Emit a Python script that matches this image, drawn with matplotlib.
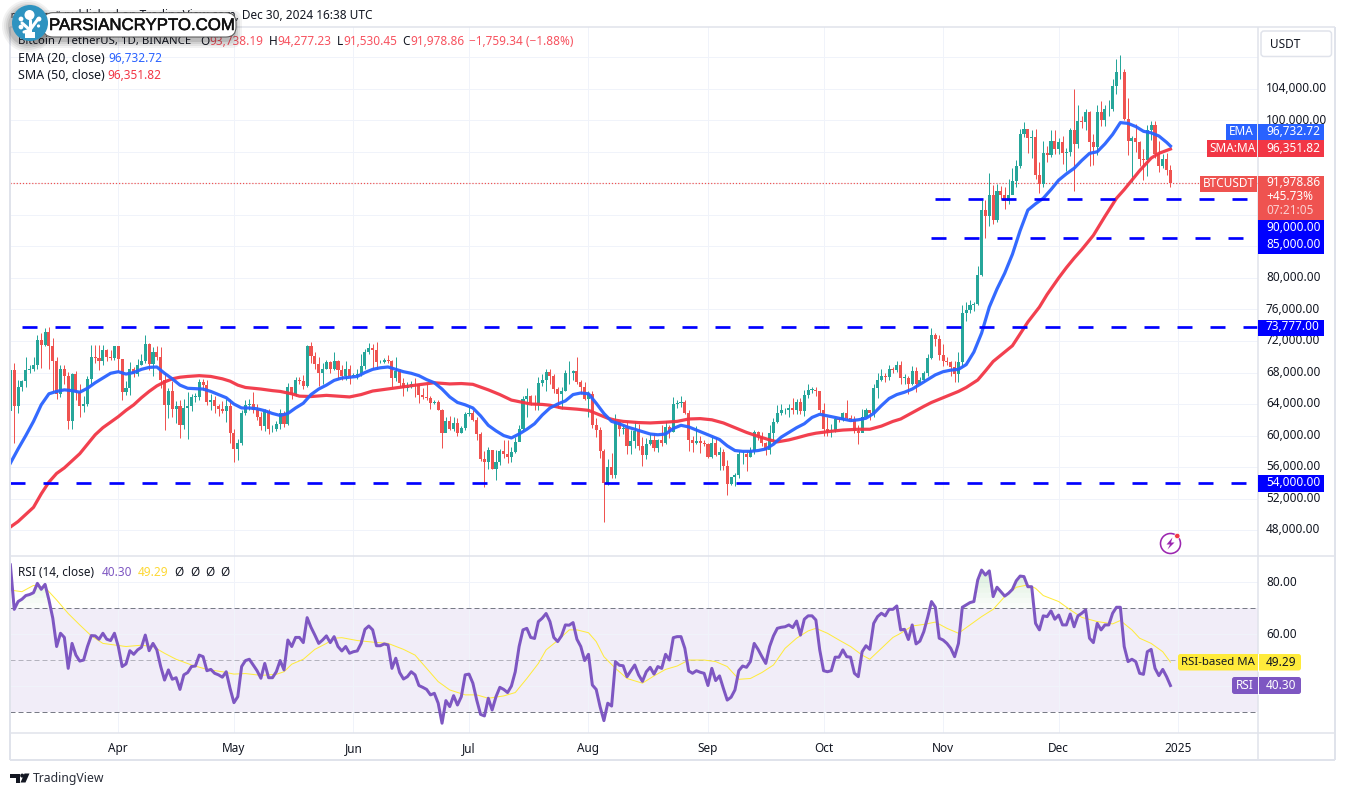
import numpy as np
import matplotlib
matplotlib.use("Agg")
import matplotlib.pyplot as plt
from matplotlib.patches import Circle, FancyBboxPatch, Polygon, Rectangle
from matplotlib.transforms import ScaledTranslation
import matplotlib.patheffects as pe

plt.rcParams['font.family'] = ['Noto Sans', 'DejaVu Sans']
plt.rcParams['lines.scale_dashes'] = False

W, H = 1345, 796

# days are counted from 2024-04-01, one candle per day from 2024-03-04 to 2024-12-30 (thousands of USDT)
first_day = -28
closes = [
    68.3, 63.8, 66.1, 66.9, 68.3, 68.5, 69.0, 72.1, 71.5, 73.1, 71.4, 69.5, 65.3, 68.4, 67.6, 61.9, 67.8, 65.5, 63.8, 64.0, 67.2, 70.0, 69.9, 69.5, 70.8, 70.0, 69.9, 71.3,
    69.7, 65.5, 66.0, 68.5, 67.8, 69.0, 69.4, 71.6, 69.1, 70.6, 70.0, 67.1, 63.9, 65.7, 63.4, 63.8, 61.3, 63.5, 63.8, 64.9, 64.9, 66.8, 66.4, 64.3, 64.5, 63.8, 63.4, 63.1, 63.8, 60.3,
    58.3, 59.1, 62.9, 63.9, 64.0, 63.2, 62.3, 61.2, 63.1, 60.8, 60.8, 61.5, 62.9, 61.5, 66.2, 65.2, 67.0, 66.9, 66.3, 71.4, 70.1, 69.1, 67.9, 68.5, 69.3, 68.5, 69.4, 68.3, 67.6, 68.4, 67.5,
    67.7, 67.8, 68.8, 70.6, 71.1, 70.8, 69.3, 69.3, 69.6, 69.5, 67.3, 68.2, 66.7, 66.0, 66.2, 66.6, 66.5, 65.1, 64.9, 64.8, 64.1, 64.2, 63.2, 60.3, 61.8, 60.8, 61.6, 60.3, 60.9, 62.7,
    62.8, 62.0, 60.2, 57.0, 56.6, 58.2, 55.8, 56.7, 58.0, 57.7, 57.3, 57.9, 59.2, 60.8, 64.7, 65.0, 64.1, 63.9, 66.7, 67.1, 68.1, 67.5, 65.9, 65.3, 65.7, 67.9, 68.0, 68.2, 66.8, 66.2, 64.6,
    65.3, 61.4, 60.7, 58.1, 54.0, 56.0, 55.0, 61.7, 60.8, 60.9, 58.7, 59.3, 60.6, 58.7, 57.5, 58.9, 59.4, 58.4, 59.4, 59.0, 61.1, 60.4, 64.0, 64.1, 64.2, 62.8, 59.4, 59.0, 59.3, 59.1, 58.9,
    57.3, 59.1, 57.5, 57.9, 56.1, 53.9, 54.8, 55.0, 57.6, 57.6, 57.3, 58.1, 60.5, 60.0, 59.1, 58.2, 60.3, 61.7, 62.9, 63.2, 63.3, 63.5, 63.3, 64.2, 63.1, 65.1, 65.8, 65.8, 65.6, 63.3,
    60.8, 60.6, 60.7, 62.1, 62.0, 62.8, 62.2, 62.1, 60.6, 60.3, 62.4, 63.2, 62.8, 66.0, 67.0, 67.6, 67.4, 68.4, 68.3, 69.0, 67.3, 67.3, 66.6, 68.2, 66.6, 67.0, 67.9, 69.9, 72.7, 72.3, 70.2,
    69.4, 69.3, 68.7, 67.8, 69.3, 75.6, 75.9, 76.5, 76.7, 80.4, 88.6, 87.9, 90.5, 87.3, 91.0, 90.5, 89.8, 90.5, 92.3, 94.2, 98.3, 98.9, 97.7, 97.9, 93.0, 91.9, 95.9, 95.6, 97.4, 96.4,
    97.2, 95.8, 96.0, 98.7, 97.0, 99.9, 99.8, 101.1, 97.3, 96.6, 101.1, 100.0, 101.4, 101.4, 104.4, 106.1, 106.1, 100.2, 97.4, 97.7, 97.2, 95.1, 94.9, 98.7, 99.4, 95.7, 94.2, 95.1, 93.74, 91.98,
]
highs = [
    68.5, 69.2, 67.0, 67.0, 70.0, 69.0, 70.0, 72.8, 73.0, 73.6, 73.8, 72.4, 70.0, 68.9, 68.9, 68.1, 68.0, 68.2, 66.6, 65.0, 67.6, 71.5, 71.5, 71.5, 71.5, 71.0, 70.9, 71.4,
    71.4, 69.7, 66.9, 69.3, 68.7, 69.7, 70.3, 72.8, 71.8, 71.2, 71.3, 71.2, 68.0, 66.0, 66.9, 64.4, 64.5, 64.6, 65.5, 65.3, 65.4, 67.2, 67.2, 67.0, 65.3, 65.0, 64.0, 64.4, 64.7, 64.7,
    60.8, 59.6, 63.3, 64.5, 64.6, 65.5, 64.0, 63.0, 63.4, 63.4, 61.4, 61.8, 63.4, 63.1, 66.7, 66.0, 67.4, 67.4, 67.7, 71.5, 71.9, 70.6, 70.0, 69.2, 69.6, 69.5, 70.6, 69.6, 68.9, 69.5, 69.0,
    67.9, 68.4, 70.3, 71.0, 71.7, 71.6, 71.9, 69.6, 69.9, 70.2, 69.6, 70.0, 68.4, 67.3, 66.8, 66.9, 67.3, 66.5, 66.0, 66.5, 65.0, 64.5, 64.5, 63.4, 62.4, 62.5, 62.3, 62.2, 61.2, 63.0,
    63.8, 63.3, 62.3, 60.5, 58.0, 58.5, 58.2, 58.2, 58.3, 59.4, 59.5, 58.6, 59.8, 61.4, 65.0, 66.0, 65.1, 65.2, 67.4, 67.8, 68.4, 68.5, 67.8, 66.1, 66.1, 68.3, 69.4, 68.3, 70.0, 67.0, 66.8,
    65.6, 65.6, 62.2, 61.1, 58.3, 57.0, 57.8, 62.7, 61.8, 61.4, 61.8, 60.7, 61.8, 61.5, 59.8, 59.7, 60.2, 60.3, 59.6, 61.4, 61.8, 61.4, 64.9, 64.5, 65.0, 64.5, 63.2, 59.9, 61.2, 60.0, 59.5,
    59.0, 59.8, 59.8, 58.5, 58.3, 56.9, 54.8, 55.3, 58.1, 58.0, 58.0, 58.6, 60.7, 60.6, 60.4, 59.2, 61.3, 62.2, 63.9, 64.0, 63.5, 64.0, 64.8, 64.7, 64.8, 65.8, 66.5, 66.2, 66.1, 65.7,
    64.1, 62.4, 61.5, 62.4, 62.4, 63.0, 64.5, 62.6, 62.5, 61.3, 63.4, 63.5, 63.1, 66.5, 67.9, 68.4, 67.9, 68.9, 68.7, 69.4, 69.5, 67.8, 67.5, 68.8, 68.7, 67.4, 68.2, 70.3, 73.6, 73.0, 72.7,
    71.6, 70.0, 69.5, 69.5, 70.6, 76.5, 76.9, 77.2, 77.0, 81.5, 89.9, 89.9, 93.3, 91.8, 91.9, 91.7, 91.5, 92.6, 94.0, 94.9, 98.9, 99.8, 98.8, 98.7, 98.9, 94.7, 97.4, 96.7, 98.8, 98.7,
    97.8, 98.0, 96.5, 99.0, 104.0, 101.9, 100.5, 101.4, 101.2, 98.3, 101.9, 102.5, 101.9, 102.6, 105.2, 107.8, 108.3, 106.5, 102.8, 98.0, 99.5, 97.4, 96.4, 99.4, 99.9, 99.9, 97.4, 95.7, 95.8, 94.28,
]
lows = [
    62.8, 59.1, 62.8, 65.6, 66.2, 68.0, 68.2, 68.5, 68.6, 71.3, 68.5, 65.6, 64.7, 64.9, 66.5, 60.8, 60.8, 64.5, 62.3, 63.0, 63.8, 66.6, 69.2, 68.3, 68.9, 69.5, 69.6, 69.6,
    68.2, 64.5, 65.1, 65.1, 67.4, 67.5, 69.0, 69.2, 68.3, 67.5, 69.6, 66.0, 60.7, 62.2, 62.3, 61.6, 59.7, 60.8, 59.6, 63.1, 64.2, 64.5, 65.8, 63.9, 63.3, 62.8, 62.5, 62.8, 61.7, 59.1,
    56.6, 56.9, 58.8, 62.6, 63.3, 62.8, 62.0, 60.7, 60.6, 60.2, 60.5, 60.6, 60.8, 61.1, 61.3, 64.6, 65.0, 66.6, 65.9, 66.1, 69.2, 68.4, 66.3, 66.6, 68.4, 68.0, 68.3, 67.2, 67.1, 67.1, 66.6,
    67.4, 67.2, 67.6, 68.5, 70.4, 68.5, 68.5, 69.2, 69.2, 69.2, 66.1, 66.9, 66.3, 65.0, 65.7, 66.0, 64.9, 64.1, 64.7, 64.5, 63.4, 64.0, 63.2, 58.4, 60.6, 60.7, 60.6, 59.9, 60.3, 60.7,
    62.5, 61.8, 59.4, 56.8, 53.5, 55.8, 55.7, 54.3, 56.3, 57.2, 56.5, 56.6, 57.8, 59.7, 60.6, 62.4, 63.9, 63.2, 63.3, 66.3, 65.7, 66.6, 65.4, 63.5, 63.4, 65.7, 66.5, 67.0, 66.6, 65.3, 64.5,
    62.3, 61.0, 59.8, 57.1, 49.0, 53.7, 54.6, 54.6, 60.0, 60.2, 57.6, 57.7, 58.4, 58.2, 56.1, 57.0, 58.8, 58.1, 57.9, 58.7, 58.9, 59.7, 60.4, 63.5, 63.6, 62.7, 58.1, 57.9, 58.9, 57.8, 58.7,
    57.1, 57.1, 57.4, 55.6, 55.6, 52.5, 53.7, 53.6, 54.6, 56.4, 55.5, 57.3, 57.6, 59.4, 58.7, 57.5, 57.6, 59.2, 61.6, 62.6, 62.7, 62.4, 62.7, 62.7, 62.7, 62.5, 64.8, 65.4, 65.0, 62.8,
    60.0, 60.0, 59.8, 60.5, 61.7, 61.8, 62.1, 61.9, 60.3, 58.9, 60.4, 62.4, 62.0, 62.4, 64.8, 66.9, 66.8, 67.1, 67.9, 68.1, 66.6, 66.6, 65.3, 66.4, 65.5, 66.5, 66.8, 67.6, 69.7, 71.4, 69.6,
    68.8, 69.0, 67.5, 66.8, 66.8, 68.8, 74.5, 75.5, 75.8, 76.5, 80.2, 85.0, 86.6, 86.8, 87.1, 90.0, 88.7, 89.4, 90.9, 91.5, 94.0, 97.9, 95.8, 95.2, 92.6, 90.8, 91.5, 94.7, 95.3, 95.7,
    95.7, 94.4, 93.6, 95.5, 91.0, 96.5, 99.0, 98.8, 94.2, 94.3, 95.6, 99.3, 99.3, 100.6, 101.2, 103.3, 105.2, 100.0, 95.6, 92.2, 96.0, 94.2, 92.4, 92.9, 97.5, 95.2, 93.4, 94.0, 93.0, 91.53,
]
first_open = 63.1

ema_days = [-28, -26, -24, -22, -20, -18, -16, -14, -12, -10, -8, -6, -4, -2, 0, 2, 4, 6, 8, 10, 12, 14, 16, 18, 20, 22, 24, 26, 28, 30, 32, 34, 36, 38, 40, 42, 44, 46, 48, 50, 52, 54, 56, 58, 60, 62, 64, 66, 68, 70, 72, 74, 76, 78, 80, 82, 84, 86, 88, 90, 92, 94, 96, 98, 100, 102, 104, 106, 108, 110, 112, 114, 116, 118, 120, 122, 124, 126, 128, 130, 132, 134, 136, 138, 140, 142, 144, 146, 148, 150, 152, 154, 156, 158, 160, 162, 164, 166, 168, 170, 172, 174, 176, 178, 180, 182, 184, 186, 188, 190, 192, 194, 196, 198, 200, 202, 204, 206, 208, 210, 212, 214, 216, 218, 220, 222, 224, 226, 228, 230, 232, 234, 236, 238, 240, 242, 244, 246, 248, 250, 252, 254, 256, 258, 260, 262, 264, 266, 268, 270, 272, 273]
ema_vals = [56.5, 58.3, 60.0, 61.8, 63.9, 65.3, 65.6, 65.8, 65.7, 65.5, 66.0, 66.7, 67.3, 67.9, 68.1, 67.8, 68.0, 68.4, 68.65, 68.7, 67.9, 67.2, 66.4, 66.0, 65.95, 65.9, 65.6, 65.2, 64.8, 64.0, 63.5, 63.5, 63.4, 63.15, 62.8, 62.55, 62.8, 63.5, 64.1, 65.2, 65.9, 66.4, 67.0, 67.3, 67.4, 67.5, 68.0, 68.4, 68.6, 68.7, 68.4, 68.1, 67.9, 67.6, 67.1, 66.7, 65.9, 64.9, 64.2, 63.9, 63.5, 62.5, 61.3, 60.6, 60.0, 59.7, 60.2, 60.8, 61.5, 62.6, 63.5, 64.0, 64.4, 65.2, 65.4, 65.3, 64.1, 62.8, 61.8, 61.5, 61.1, 60.8, 60.5, 60.2, 60.1, 60.2, 60.9, 61.3, 61.1, 60.7, 60.3, 59.9, 59.5, 58.7, 58.1, 58.0, 58.0, 58.1, 58.3, 58.9, 59.8, 60.4, 61.0, 61.5, 62.3, 62.7, 62.5, 62.3, 62.1, 61.9, 62.0, 62.2, 62.8, 63.8, 64.7, 65.2, 65.5, 65.9, 66.5, 67.1, 67.7, 68.1, 68.3, 68.4, 69.0, 70.6, 73.0, 76.3, 78.6, 80.6, 83.0, 86.0, 88.6, 89.4, 90.1, 91.2, 92.4, 93.2, 93.9, 94.9, 95.8, 96.0, 97.0, 98.2, 99.7, 99.6, 99.2, 98.6, 98.4, 98.0, 97.2, 96.73]

sma_days = [-28, -26, -24, -22, -20, -18, -16, -14, -12, -10, -8, -6, -4, -2, 0, 2, 4, 6, 8, 10, 12, 14, 16, 18, 21, 24, 27, 29, 31, 33, 35, 37, 40, 42, 45, 47, 50, 54, 57, 60, 63, 66, 69, 72, 75, 78, 82, 86, 89, 92, 94, 96, 99, 102, 105, 107, 110, 112, 115, 119, 122, 124, 127, 129, 131, 135, 138, 142, 145, 148, 151, 154, 157, 160, 163, 166, 169, 171, 174, 176, 179, 181, 185, 188, 192, 195, 198, 201, 203, 206, 209, 211, 213, 216, 218, 220, 223, 225, 227, 230, 232, 234, 236, 239, 241, 244, 246, 248, 250, 253, 256, 259, 261, 263, 265, 268, 270, 273]
sma_vals = [48.4, 49.1, 50.0, 50.9, 52.6, 54.1, 55.2, 55.9, 56.8, 57.7, 58.9, 60.1, 61.0, 61.7, 62.4, 63.2, 63.9, 64.8, 65.6, 66.3, 66.8, 67.2, 67.4, 67.5, 67.6, 67.5, 67.2, 66.9, 66.4, 66.1, 66.0, 65.9, 65.7, 65.6, 65.3, 65.0, 64.95, 65.1, 65.0, 64.9, 65.2, 65.65, 65.85, 66.05, 66.25, 66.45, 66.7, 66.55, 66.6, 66.5, 66.15, 65.8, 65.2, 64.5, 64.2, 64.0, 63.95, 63.85, 63.5, 63.35, 63.2, 62.8, 62.2, 61.95, 61.8, 61.65, 61.6, 61.7, 61.8, 62.1, 62.15, 62.0, 61.6, 61.0, 60.4, 59.9, 59.45, 59.2, 59.45, 59.7, 60.1, 60.3, 60.55, 60.7, 60.8, 60.8, 61.2, 61.8, 62.1, 62.9, 63.7, 64.2, 64.6, 65.2, 65.6, 66.1, 67.05, 68.2, 69.4, 70.6, 71.4, 72.9, 74.4, 76.3, 77.9, 80.0, 81.3, 82.5, 83.6, 85.4, 87.8, 90.1, 91.2, 92.4, 93.6, 95.2, 95.8, 96.35]

rsi_vals = [
    86.7, 69.6, 72.6, 73.5, 74.9, 75.3, 76, 79.6, 77.3, 79.2, 73.2, 66.2, 55.3, 60.4, 58.8, 46.9, 56.5, 52, 49.7, 50.1, 55.3, 59.5, 59.4, 58.1, 60.4, 58.1, 57.6, 60.4,
    55.3, 47.6, 48.6, 53.7, 52.3, 54, 55, 59.7, 53.7, 56.5, 54, 47.6, 42.4, 46.3, 42.7, 43.3, 38.8, 44.4, 45.3, 47.6, 47.8, 52, 51.4, 46, 46.5, 45, 44.4, 43.5, 45.6, 39.2,
    33.7, 36, 47.6, 49.9, 50.4, 48.2, 46, 43.1, 48.8, 43.3, 43.3, 45.6, 49.9, 46.3, 57.8, 55.3, 58.8, 58.8, 56.8, 66.4, 62.7, 59.7, 56.5, 57.8, 59.4, 56.8, 59.1, 55.3, 53.6, 55.3, 52.7,
    53.3, 53.6, 56.5, 61.9, 63.2, 61.7, 55.6, 55.6, 56.3, 55.9, 46.9, 50.8, 45.3, 42.8, 43.7, 45.6, 44.4, 40.3, 39.6, 38.8, 36.7, 37.3, 33.5, 25.8, 34.5, 32.2, 36.4, 32.8, 36, 44.4,
    44.7, 41.2, 34.7, 29.2, 28.6, 35.4, 30.9, 36, 39.6, 38.8, 37.6, 40.1, 45.6, 55.3, 61.7, 62.3, 58.8, 58.4, 64.9, 66.2, 68, 64.9, 58.8, 57.2, 59.4, 63.6, 63.5, 64.5, 58.1, 55.3, 49.9,
    52.3, 40.5, 38.8, 32.2, 26.8, 33.5, 32.4, 49.5, 48.1, 47.9, 43.7, 46, 48.2, 44.4, 41.9, 45.6, 47.3, 44.7, 47.6, 46.9, 52.3, 50.1, 58.7, 59.1, 59.1, 54.6, 45.9, 45, 46, 45.4, 45,
    40.3, 46.9, 42.2, 44, 39.2, 34.7, 35.8, 38.6, 46, 47.8, 47.3, 49.5, 56.5, 54.2, 51.4, 48.8, 55.3, 59.4, 62.3, 62.7, 62.9, 63.6, 62.6, 65.1, 59.7, 65.8, 67.1, 67.1, 65.5, 54,
    46, 45.6, 46, 51.2, 51.2, 54, 51.4, 51.2, 45, 43.7, 53.3, 55.6, 54.2, 64.2, 66.8, 68.1, 67.1, 69.6, 69.6, 70.9, 61.7, 61.9, 58, 63.6, 56.3, 57.4, 61, 66.5, 72.6, 70.4, 58.5,
    57.8, 56.5, 54.6, 51.4, 56.5, 70.4, 71.3, 72.2, 72.6, 80.9, 84.7, 82.8, 84.4, 74.5, 78.1, 76.4, 74.7, 75.8, 77.3, 80.6, 82.4, 82.2, 78.3, 78.3, 64.2, 61.7, 67.1, 66.8, 69, 65.8,
    67.4, 63.6, 63.6, 67.8, 62.9, 67.1, 68.1, 69.4, 58.5, 56.8, 64.2, 61.7, 63.6, 63.6, 68.1, 70.4, 70.4, 55.3, 49.5, 50.4, 49.5, 45, 44.6, 53.3, 54.2, 46.9, 44.1, 46.5, 43.7, 40.3,
]

rsi_ma_days = [-28, -25, -22, -19, -16, -13, -10, -7, -4, -1, 2, 6, 9, 12, 15, 19, 23, 27, 30, 33, 37, 41, 43, 45, 48, 51, 54, 56, 58, 62, 66, 70, 74, 77, 80, 83, 86, 90, 93, 96, 100, 103, 106, 109, 111, 114, 117, 119, 122, 124, 126, 129, 132, 136, 139, 142, 145, 148, 152, 155, 158, 161, 164, 167, 170, 173, 176, 179, 181, 184, 187, 190, 193, 195, 198, 201, 203, 206, 209, 212, 215, 218, 221, 224, 227, 230, 233, 236, 238, 240, 244, 247, 250, 254, 258, 260, 263, 265, 268, 271, 273]
rsi_ma_vals = [77, 76.4, 78.8, 78, 73.2, 68, 63.6, 59.4, 56.5, 55.9, 55.3, 55.8, 55.3, 52.7, 50.4, 48.2, 46.5, 45.6, 44.7, 44.9, 44.2, 44.6, 45.6, 48.5, 50.4, 54.2, 56.5, 58.5, 58.7, 57.6, 57, 56.5, 54.2, 52, 46.9, 41.8, 38.6, 36.7, 36.7, 35.4, 36.3, 37.6, 43, 48.8, 54, 57.6, 61.7, 61.7, 60.6, 57.2, 51.4, 46.9, 43, 41.2, 44, 46.5, 47.8, 50.1, 50.1, 49.5, 47.6, 42.7, 43, 45.3, 48.2, 54.6, 58.5, 61.3, 62.3, 60.4, 57.8, 55.3, 52, 50.4, 54.6, 58.8, 60.4, 63.2, 63.8, 64.7, 62.3, 60.4, 63.6, 66.8, 69.6, 74.5, 78.1, 79, 77.7, 74.9, 72.6, 69.4, 66.5, 64.9, 64, 65.3, 61.7, 58.5, 56.5, 53.3, 49.29]

month_days = [0, 30, 61, 91, 122, 153, 183, 214, 244, 275]
month_labels = ['Apr', 'May', 'Jun', 'Jul', 'Aug', 'Sep', 'Oct', 'Nov', 'Dec', '2025']

# the 84-96k and 108k labels are hidden by the price boxes in the reference
price_ticks = [48, 52, 56, 60, 64, 68, 72, 76, 80, 84, 88, 92, 96, 100, 104, 108]
price_labels = ['48,000.00', '52,000.00', '56,000.00', '60,000.00', '64,000.00', '68,000.00', '72,000.00', '76,000.00',
                '80,000.00', '', '', '', '', '100,000.00', '104,000.00', '']
rsi_ticks = [40, 60, 80]
rsi_tick_labels = ['', '60.00', '80.00']

# horizontal levels drawn on the chart: price, first day, last day
level_prices = [90.0, 85.0, 73.777, 54.0]
level_starts = [211.9, 210.9, -25.0, -28.1]
level_ends = [293.0, 292.0, 295.7, 295.7]

# scales taken from the gridlines of the picture
px_per_day = 3.854
x_apr = 118.3
px_per_k = 7.883
y_68k = 372.5
px_per_rsi = 2.6
y_rsi70 = 608.3

left, right = 10, 1258
main_top, main_bottom = 27, 556
rsi_bottom = 733

GRID = '#f0f3fa'
FRAME = '#e0e3eb'
TEXT = '#131722'
UP = '#26a69a'
DOWN = '#ef5350'
BLUE = '#2962ff'
RED = '#f23645'
PURPLE = '#7e57c2'
YELLOW = '#ffeb3b'
LINEBLUE = '#0000ff'
px = 72 / 100


def axes_px(x0, y0, x1, y1):
    return fig.add_axes([x0 / W, 1 - y1 / H, (x1 - x0) / W, (y1 - y0) / H])


fig = plt.figure(figsize=(W / 100, H / 100), dpi=100, facecolor='white')
ax = axes_px(left, main_top, right, main_bottom)
ax_rsi = axes_px(left, main_bottom, right, rsi_bottom)

xlim = ((left - x_apr) / px_per_day, (right - x_apr) / px_per_day)
for a in (ax, ax_rsi):
    a.set_xlim(xlim)
    a.set_xticks(month_days)
    a.grid(True, color=GRID, lw=1 * px)
    a.set_axisbelow(True)
    for s in a.spines.values():
        s.set_visible(False)
    a.yaxis.tick_right()
    a.tick_params(length=0, pad=8 * px, labelsize=8.5, labelcolor=TEXT)

ax.set_ylim(68 - (main_bottom - y_68k) / px_per_k, 68 + (y_68k - main_top) / px_per_k)
ax.set_yticks(price_ticks)
ax.set_yticklabels(price_labels)
ax.tick_params(axis='x', labelbottom=False)

ax_rsi.set_ylim(70 - (rsi_bottom - y_rsi70) / px_per_rsi, 70 + (y_rsi70 - main_bottom) / px_per_rsi)
ax_rsi.set_yticks(rsi_ticks)
ax_rsi.set_yticklabels(rsi_tick_labels)
ax_rsi.set_xticklabels(month_labels)
ax_rsi.tick_params(axis='x', pad=9 * px)
ax_rsi.get_xticklabels()[-1].set_fontweight('bold')

# labels sit a little above their gridlines in the reference
for lab in ax.get_yticklabels():
    lab.set_transform(lab.get_transform() + ScaledTranslation(0, 1.7 / 100, fig.dpi_scale_trans))
for lab in ax_rsi.get_yticklabels():
    lab.set_transform(lab.get_transform() + ScaledTranslation(0, 1.0 / 100, fig.dpi_scale_trans))

# candles
days = np.arange(first_day, first_day + len(closes))
c = np.array(closes)
o = np.r_[first_open, c[:-1]]
colors = np.where(c >= o, UP, DOWN)
ax.vlines(days, lows, highs, colors=colors, lw=1 * px, zorder=3)
ax.bar(days, np.maximum(np.abs(c - o), 0.08), bottom=np.minimum(o, c), width=0.8, color=colors, lw=0, zorder=3)

ax.axhline(c[-1], color=DOWN, lw=1.2 * px, ls=(0, (1.2 * px, 1.9 * px)), zorder=2)
ax.plot(sma_days, sma_vals, color=RED, lw=3.2 * px, alpha=0.95, zorder=4, solid_joinstyle='round')
ax.plot(ema_days, ema_vals, color=BLUE, lw=3.2 * px, alpha=0.95, zorder=5, solid_joinstyle='round')
for lv, d0, d1 in zip(level_prices, level_starts, level_ends):
    ax.plot([d0, d1], [lv, lv], color=LINEBLUE, lw=2.7 * px, ls=(0, (15 * px, 18 * px)),
            dash_capstyle='butt', zorder=6)

# rsi pane
rsi = np.array(rsi_vals)
ax_rsi.axhspan(30, 70, color=PURPLE, alpha=0.1, lw=0, zorder=0)
for lv, col, al in [(70, '#787b86', 1), (50, '#787b86', 0.5), (30, '#787b86', 1)]:
    ax_rsi.axhline(lv, color=col, alpha=al, lw=1 * px, ls=(0, (5 * px, 3 * px)), zorder=2)
for i, lv in enumerate(np.arange(70, 88, 2)):
    ax_rsi.fill_between(days, lv, np.minimum(rsi, lv + 2), where=rsi > lv, interpolate=True,
                        color='#4caf50', alpha=0.03 + 0.025 * i, lw=0, zorder=2)
ax_rsi.plot(rsi_ma_days, rsi_ma_vals, color=YELLOW, lw=1 * px, zorder=3)
ax_rsi.plot(days, rsi, color=PURPLE, lw=3 * px, zorder=4, solid_joinstyle='round')

# overlay in pixel coordinates for frame, labels and watermark
ov = fig.add_axes([0, 0, 1, 1], facecolor='none')
ov.set_xlim(0, W)
ov.set_ylim(H, 0)
ov.axis('off')


def hline(y, x0=left, x1=1335, lw=1.5):
    ov.plot([x0, x1], [y, y], color=FRAME, lw=lw * px, solid_capstyle='butt', zorder=1)


def vline(x, y0=main_top, y1=760, lw=1.5):
    ov.plot([x, x], [y0, y1], color=FRAME, lw=lw * px, solid_capstyle='butt', zorder=1)


hline(main_top)
hline(main_bottom)
hline(rsi_bottom, x1=1335)
hline(760, lw=2)
vline(left, lw=2)
vline(1257.5)
vline(1335, lw=2)


def txt(x, y, s, color=TEXT, size=8.5, ha='left', **kw):
    return ov.text(x, y, s, color=color, fontsize=size, ha=ha, va='center', zorder=12, **kw)


def box(x0, y0, x1, y1, color):
    ov.add_patch(Rectangle((x0, y0), x1 - x0, y1 - y0, fc=color, ec='none', zorder=10))


def rbox(x0, y0, x1, y1, color, ec='none', r=2.5, z=10, **kw):
    ov.add_patch(FancyBboxPatch((x0 + r, y0 + r), x1 - x0 - 2 * r, y1 - y0 - 2 * r,
                                boxstyle=f'round,pad={r},rounding_size={r}', fc=color, ec=ec,
                                mutation_aspect=1, zorder=z, **kw))


WHITE = 'white'
# USDT selector
rbox(1261, 31, 1331.5, 56.5, 'white', ec=FRAME, r=3, lw=1.5 * px)
txt(1270, 44, 'USDT')

# price labels
box(1226, 123.5, 1257, 139.5, BLUE)
box(1258, 123.5, 1324, 139.5, BLUE)
txt(1241.5, 131.5, 'EMA', WHITE, ha='center')
txt(1266, 131.5, '96,732.72', WHITE)
box(1207, 140, 1257, 156.5, RED)
box(1258, 140, 1324, 156.5, RED)
txt(1232, 148, 'SMA:MA', WHITE, ha='center')
txt(1266, 148, '96,351.82', WHITE)
box(1200, 175.5, 1257, 191.5, DOWN)
box(1258, 175.5, 1324, 220, DOWN)
txt(1228.5, 183.5, 'BTCUSDT', WHITE, ha='center')
txt(1266, 183, '91,978.86', WHITE)
txt(1266, 197, '+45.73%', WHITE)
txt(1266, 211, '07:21:05', '#fbd0d0')
box(1258, 220, 1324, 254, LINEBLUE)
txt(1266, 227.5, '90,000.00', WHITE)
txt(1266, 244.5, '85,000.00', WHITE)
box(1258, 319.5, 1324, 335.5, LINEBLUE)
txt(1266, 327, '73,777.00', WHITE)
box(1258, 475, 1324, 491.5, LINEBLUE)
txt(1266, 482.5, '54,000.00', WHITE)

rbox(1178, 654, 1301, 670.5, YELLOW)
ov.plot([1257.5, 1257.5], [654, 670.5], color=WHITE, lw=0.7, zorder=11)
txt(1217.5, 662.5, 'RSI-based MA', TEXT, ha='center', size=8.2)
txt(1266, 662.5, '49.29', TEXT)
rbox(1232, 677, 1301, 694, PURPLE)
ov.plot([1257.5, 1257.5], [677, 694], color=WHITE, lw=0.7, zorder=11)
txt(1245, 685.5, 'RSI', WHITE, ha='center')
txt(1266, 685.5, '40.30', WHITE)

# legend text
txt(10, 15, 'rakesh_upadhyay', size=5.8)
txt(372, 15, 'published on TradingView.com, Dec 30, 2024 16:38 UTC', ha='right')
txt(18, 41.5, 'Bitcoin / TetherUS, 1D, BINANCE', size=8.2)
ohlc_red = '#f7525f'
for xl, xv, l, v in [(200.5, 209, 'O', '93,738.19'), (268.5, 277, 'H', '94,277.23'),
                     (336.5, 343, 'L', '91,530.45'), (402.5, 410.5, 'C', '91,978.86')]:
    txt(xl, 41.5, l)
    txt(xv, 41.5, v, ohlc_red)
txt(469, 41.5, '\u22121,759.34 (\u22121.88%)', ohlc_red)
txt(18, 58.5, 'EMA (20, close)', size=8.9)
txt(108, 58.5, '96,732.72', BLUE)
txt(18, 75.5, 'SMA (50, close)', size=8.9)
txt(107, 75.5, '96,351.82', RED)
txt(18, 572, 'RSI (14, close)')
txt(102, 572, '40.30', PURPLE)
txt(138, 572, '49.29', '#fdd835')
for xz in (179, 195, 210, 225):
    txt(xz, 572, '\u00d8', ha='center')

# bolt icon
ov.add_patch(Circle((1170.5, 543.5), 10, fc='white', ec='#9c27b0', lw=1.6 * px, zorder=8))
ov.add_patch(Polygon([(1172.5, 537.5), (1166.5, 544.5), (1170, 544.5), (1167.5, 549.5),
                      (1174.5, 542.5), (1171, 542.5)], fc='#9c27b0', ec='none', zorder=9))
ov.add_patch(Circle((1177.3, 536), 2.7, fc=RED, ec='white', lw=0.5, zorder=9))

# tradingview logo
ov.add_patch(Polygon([(10, 773.5), (20, 773.5), (20, 782.5), (15.5, 782.5), (15.5, 777.5), (10, 777.5)],
                     fc=TEXT, ec='none', zorder=8))
ov.add_patch(Circle((22.2, 775.6), 2, fc=TEXT, ec='none', zorder=8))
ov.add_patch(Polygon([(24.5, 773.5), (29.5, 773.5), (25.5, 782.5), (20.5, 782.5)], fc=TEXT, ec='none', zorder=8))
txt(33, 778.5, 'TradingView', '#2a2e39', size=8.8)

# watermark
for i, a in enumerate((0.05, 0.06, 0.08, 0.1)):
    g = 8 - 2 * i
    rbox(36 - g, 13 - g + 5, 236 + g - 2, 37 + g + 3, 'black', r=11, z=13, alpha=a)
    ov.add_patch(Circle((28, 26), 18 + g, fc='black', ec='none', alpha=a, zorder=13))
rbox(43, 12.7, 236, 37, 'white', ec='#555555', r=10, z=14, lw=1 * px)
ov.add_patch(Circle((30, 23), 18, fc='#2e93c0', ec='none', zorder=15))
mark = ov.text(49, 25.5, 'PARSIANCRYPTO.COM', fontsize=12.1, color='#111111', ha='left', va='center',
               family=['Liberation Sans'], zorder=16)
mark.set_path_effects([pe.withStroke(linewidth=0.4, foreground='#111111')])
for x0, y0, x1, y1 in [(30, 34, 30, 20), (30, 30, 22, 23), (30, 30, 38, 19), (30, 30, 24, 32)]:
    ov.plot([x0, x1], [y0, y1], color='white', lw=2.2, zorder=15.5, solid_capstyle='round')
ov.add_patch(Rectangle((25, 32), 10, 6, fc='white', ec='none', zorder=15.5))
for cx, cy, r in [(29.5, 15, 5), (21, 19, 2.4), (39, 19, 2.4), (21, 27, 2.4), (38.5, 26, 1.6)]:
    ov.add_patch(Circle((cx, cy), r, fc='white', ec='none', zorder=15.6))

fig.savefig('out.png', dpi=100, facecolor='white')
